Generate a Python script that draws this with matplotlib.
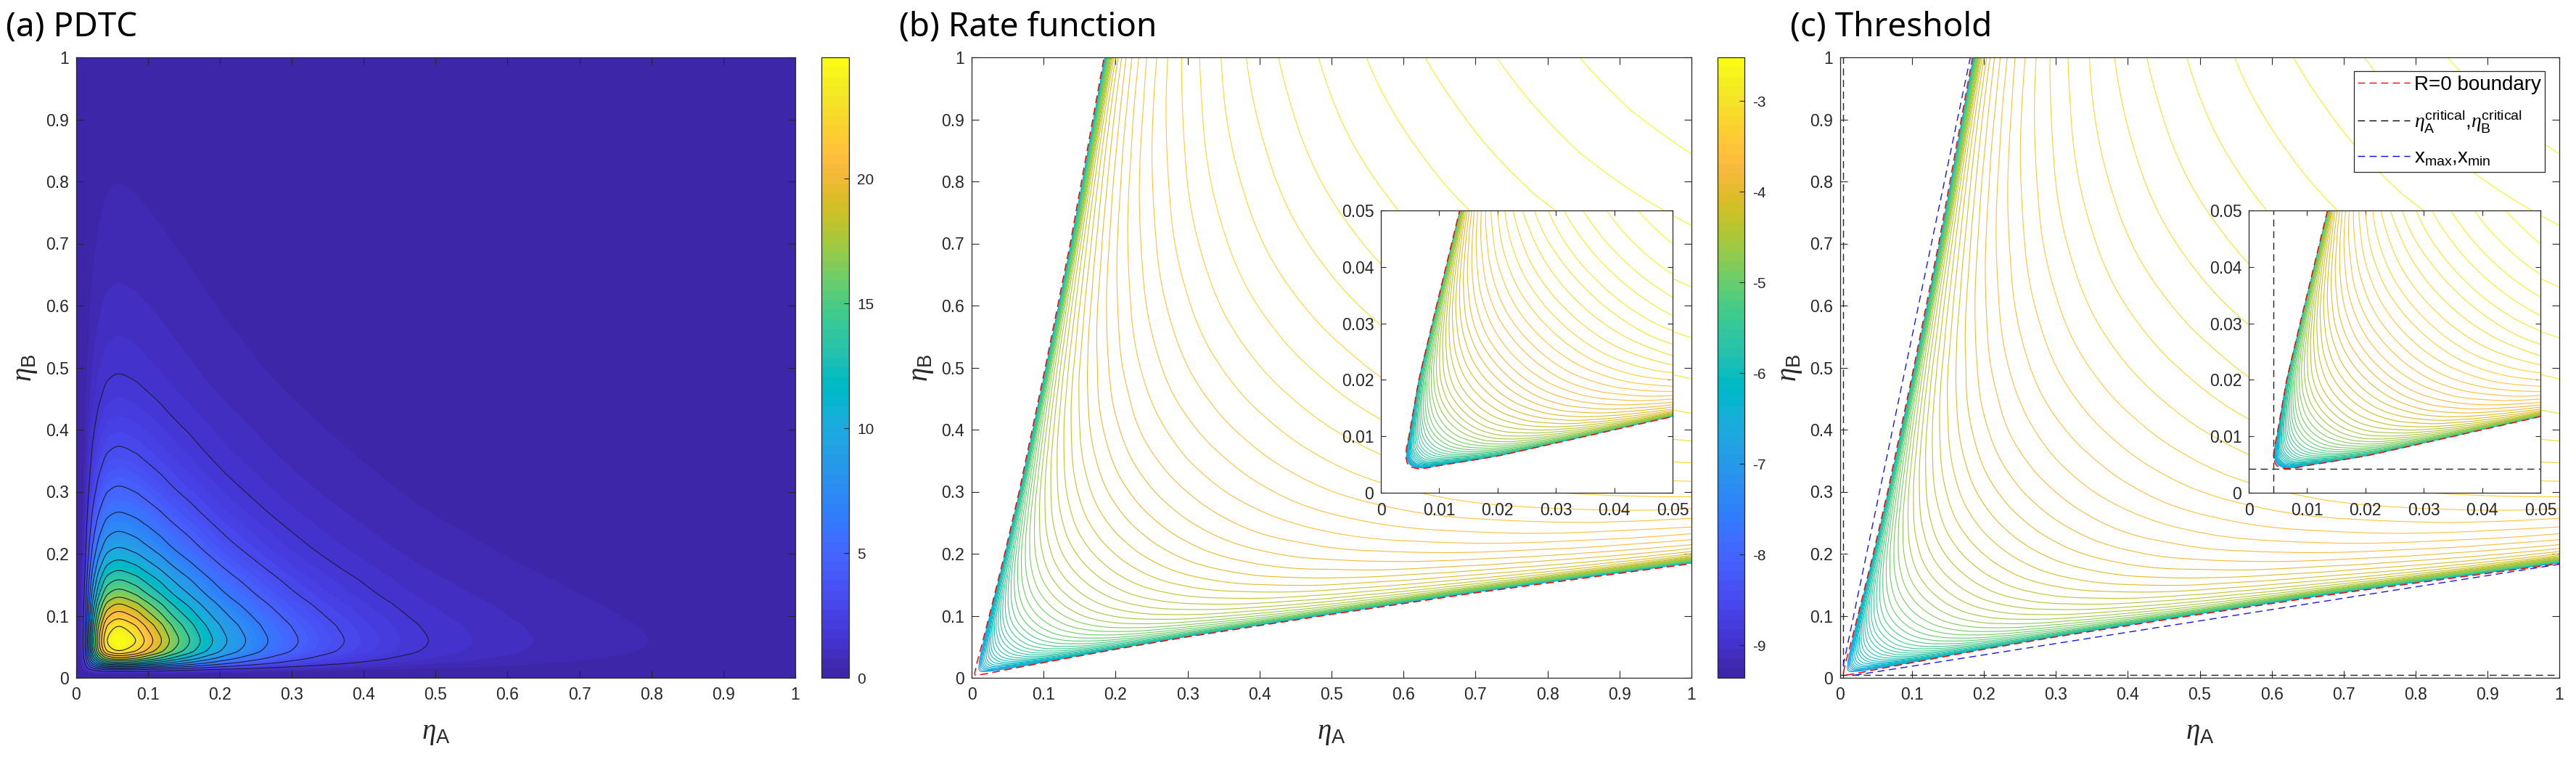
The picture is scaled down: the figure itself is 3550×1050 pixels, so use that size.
import numpy as np
import matplotlib
matplotlib.use('Agg')
import matplotlib.pyplot as plt
from matplotlib.colors import ListedColormap, Normalize
from matplotlib.cm import ScalarMappable
from matplotlib.lines import Line2D

W, H = 3550, 1050
plt.rcParams['font.family'] = ['Liberation Sans', 'DejaVu Sans']
plt.rcParams['axes.unicode_minus'] = False
plt.rcParams['mathtext.fontset'] = 'custom'
plt.rcParams['mathtext.rm'] = 'Liberation Sans'
plt.rcParams['mathtext.it'] = 'Liberation Serif:italic'
plt.rcParams['mathtext.default'] = 'regular'

parula = [[0.2422,0.1504,0.6603],[0.2504,0.1650,0.7076],[0.2578,0.1818,0.7511],[0.2647,0.1978,0.7952],
[0.2706,0.2147,0.8364],[0.2751,0.2342,0.8710],[0.2783,0.2559,0.8991],[0.2803,0.2782,0.9221],
[0.2813,0.3006,0.9414],[0.2810,0.3228,0.9579],[0.2795,0.3447,0.9717],[0.2760,0.3667,0.9829],
[0.2699,0.3892,0.9906],[0.2602,0.4123,0.9952],[0.2440,0.4358,0.9988],[0.2206,0.4603,0.9973],
[0.1963,0.4847,0.9892],[0.1834,0.5074,0.9798],[0.1786,0.5289,0.9682],[0.1764,0.5499,0.9520],
[0.1687,0.5703,0.9359],[0.1540,0.5902,0.9218],[0.1460,0.6091,0.9079],[0.1380,0.6276,0.8973],
[0.1248,0.6459,0.8883],[0.1113,0.6635,0.8763],[0.0952,0.6798,0.8598],[0.0689,0.6948,0.8394],
[0.0297,0.7082,0.8163],[0.0036,0.7203,0.7917],[0.0067,0.7312,0.7660],[0.0433,0.7411,0.7394],
[0.0964,0.7500,0.7120],[0.1408,0.7584,0.6842],[0.1717,0.7670,0.6554],[0.1938,0.7758,0.6251],
[0.2161,0.7843,0.5923],[0.2470,0.7918,0.5567],[0.2906,0.7973,0.5188],[0.3406,0.8008,0.4789],
[0.3909,0.8029,0.4354],[0.4456,0.8024,0.3909],[0.5044,0.7993,0.3480],[0.5616,0.7942,0.3045],
[0.6174,0.7876,0.2612],[0.6720,0.7793,0.2227],[0.7242,0.7698,0.1910],[0.7738,0.7598,0.1646],
[0.8203,0.7498,0.1535],[0.8634,0.7406,0.1596],[0.9035,0.7330,0.1774],[0.9393,0.7288,0.2100],
[0.9728,0.7298,0.2394],[0.9956,0.7434,0.2371],[0.9970,0.7659,0.2199],[0.9952,0.7893,0.2028],
[0.9892,0.8136,0.1885],[0.9786,0.8386,0.1766],[0.9676,0.8639,0.1643],[0.9610,0.8890,0.1537],
[0.9597,0.9135,0.1423],[0.9628,0.9373,0.1265],[0.9691,0.9606,0.1064],[0.9769,0.9839,0.0805]]
cmap = ListedColormap(parula)

# ---- values -----------------------------------------------------------------
main_ticks = [0, .1, .2, .3, .4, .5, .6, .7, .8, .9, 1]
main_tick_labels = ['0', '0.1', '0.2', '0.3', '0.4', '0.5', '0.6', '0.7', '0.8', '0.9', '1']
inset_ticks = [0, .01, .02, .03, .04, .05]
inset_tick_labels = ['0', '0.01', '0.02', '0.03', '0.04', '0.05']
pdtc_cbar_ticks = [0, 5, 10, 15, 20]
rate_cbar_ticks = [-9, -8, -7, -6, -5, -4, -3]

# (a) PDTC: peak value and its profile through the peak (sixteenths of the peak)
pdtc_peak = 24.87
pdtc_eta = [.0005, .0045, .007, .0085, .0101, .0128, .0145, .0162, .0178, .0195, .0212, .0229, .0249,
            .0273, .0296, .0323, .0357, .039, .0438, .06, .083, .095, .107, .119, .13, .143, .158,
            .173, .19, .21, .236, .267, .309, .373, .49, .55, .635, .795, 1.0]
pdtc_sixteenths = [0, 0, .2, .5, 1, 2, 3, 4, 5, 6, 7, 8, 9,
                   10, 11, 12, 13, 14, 15, 16, 15, 14, 13, 12, 11, 10, 9,
                   8, 7, 6, 5, 4, 3, 2, 1, .75, .5, .25, .12]

# (b,c) R=0 boundary, lower branch (the upper one is its mirror image)
boundary_a = [.0048, .0053, .0065, .008, .01, .02, .03, .05, .1, .2, .3, .5, .7, 1.0, 2.0]
boundary_b = [.0048, .0045, .00425, .0044, .0048, .0065, .0088, .0135, .0245, .046, .066, .1023, .137, .184, .345]

# contours counted from the outermost one, where they cross the diagonal eta_A = eta_B
diag_eta = [.0048, .0052, .0058, .0065, .0075, .0085, .01, .012, .015, .02, .0222, .0245, .0275, .031,
            .034, .0375, .0415, .0455, .05, .0543, .0589, .0639, .0693, .0751, .0815, .0884, .0959,
            .104, .1128, .1224, .1328, .144, .1562, .1695, .1838, .1994, .2163, .2346, .2545, .276,
            .2995, .325, .3375, .36, .4, .45, .5, .55, .6, .65, .7, .75, .8, .85, .915, 1.0]
diag_count = [60, 56, 55, 54, 53, 52, 51, 49.5, 48, 45, 44, 43, 42, 41,
              40, 39, 38, 37, 36, 35, 34, 33, 32, 31, 30, 29, 28,
              27, 26, 25, 24, 23, 22, 21, 20, 19, 18, 17, 16, 15,
              14, 13, 12.57, 11.75, 10.43, 8.94, 7.61, 6.41, 5.32, 4.31, 3.37, 2.5, 1.69, .93, 0, -1.12]
inset_diag_eta = [.0048, .005, .0053, .0054, .0055, .0056, .0058, .006, .0062, .0064, .0066, .0069, .0072,
                  .0075, .0079, .0083, .0087, .0092, .0097, .0102, .0108, .0114, .0121, .0128, .0135,
                  .0143, .0151, .016, .017, .018, .019, .0201, .0212, .0223, .0235, .0248, .0261, .0275,
                  .029, .0305, .0321, .0338, .0356, .0373, .0393, .0414, .0438, .0469, .05]
inset_diag_count = [58, 50, 45, 44, 43, 42, 41, 40, 39, 38, 37, 36, 35,
                    34, 33, 32, 31, 30, 29, 28, 27, 26, 25, 24, 23,
                    22, 21, 20, 19, 18, 17, 16, 15, 14, 13, 12, 11, 10,
                    9, 8, 7, 6, 5, 4, 3, 2, 1, 0, -1]
# extra contours crossed going from the diagonal (fraction 1) to the boundary (fraction 0)
across_fraction = [0, .003, .007, .012, .018, .026, .036, .048, .062, .0788, .0974, .118, .144, .172,
                   .206, .248, .296, .35, .413, .487, .57, .66, .764, .877, .94, 1]
across_count = [80, 44, 30, 22, 17.5, 14.2, 12.3, 11, 9.9, 8.92, 8.02, 7.14, 6.28, 5.43,
                4.61, 3.85, 3.13, 2.44, 1.84, 1.31, .84, .48, .22, .05, .01, 0]
rate_top, rate_bottom = -2.52, -9.36
rate_first_contour, rate_step = -2.58, .0855
last_count = 50

critical_eta = .0042
xmax_a = [.0042, .181]
xmax_b = [.02, 1.0]
xmin_a = [.02, 1.0]
xmin_b = [.0042, .183]

INK = '#262626'
TS = 16.5


def smooth_through(x, y, new_x):
    """Monotone cubic through the read-off nodes, only so the surface has no polygon corners."""
    x, y = np.asarray(x, float), np.asarray(y, float)
    h = np.diff(x)
    d = np.diff(y) / h
    m = np.zeros_like(y)
    for i in range(1, len(y) - 1):
        if d[i - 1] * d[i] > 0:
            w1, w2 = 2 * h[i] + h[i - 1], h[i] + 2 * h[i - 1]
            m[i] = (w1 + w2) / (w1 / d[i - 1] + w2 / d[i])
    m[0], m[-1] = d[0], d[-1]
    i = np.clip(np.searchsorted(x, new_x) - 1, 0, len(h) - 1)
    t = (new_x - x[i]) / h[i]
    return ((2 * t**3 - 3 * t**2 + 1) * y[i] + (t**3 - 2 * t**2 + t) * h[i] * m[i]
            + (-2 * t**3 + 3 * t**2) * y[i + 1] + (t**3 - t**2) * h[i] * m[i + 1])


def rect(x0, x1, top, bot):
    return [x0 / W, 1 - bot / H, (x1 - x0) / W, (bot - top) / H]


def style(ax, ticks, labels, ticklen=7):
    ax.set_xlim(0, ticks[-1])
    ax.set_ylim(0, ticks[-1])
    ax.set_xticks(ticks)
    ax.set_xticklabels(labels)
    ax.set_yticks(ticks)
    ax.set_yticklabels(labels)
    ax.tick_params(direction='in', length=ticklen, width=.8, top=True, right=True, color=INK,
                   labelcolor=INK, labelsize=TS)
    ax.tick_params(axis='x', pad=9)
    ax.tick_params(axis='y', pad=7)
    for s in ax.spines.values():
        s.set_linewidth(.9)
        s.set_color(INK)


def axis_labels(ax):
    ax.set_xlabel(r'$\mathit{\eta}_{A}$', fontsize=28, color=INK, va='center')
    ax.set_ylabel(r'$\mathit{\eta}_{B}$', fontsize=28, color=INK, va='center')
    ax.xaxis.set_label_coords(.5, -.09)
    ax.yaxis.set_label_coords(-.069, .5)


def rate_mesh(eta, count):
    # fine stations along the diagonal and across the wedge, through the read-off nodes
    u = np.linspace(np.log(eta[0]), np.log(eta[-1]), 500)
    fine_count = smooth_through(np.log(eta), count, u)
    fine_eta = np.exp(u)
    v = np.linspace(np.log(.0012), 0, 220)
    frac = np.r_[0, np.exp(v) - .001]
    frac = frac[frac < 1]
    frac = np.r_[frac, 1.0]
    fine_across = smooth_through(across_fraction, across_count, frac)
    s = 2 * fine_eta
    arc = np.add(boundary_a, boundary_b)
    la = smooth_through(np.log(arc), boundary_a, np.log(s))
    lb = smooth_through(np.log(arc), boundary_b, np.log(s))
    f = frac[None, :]
    A = la[:, None] + f * (fine_eta - la)[:, None]
    B = lb[:, None] + f * (fine_eta - lb)[:, None]
    X = np.hstack([A, B[:, -2::-1]])
    Y = np.hstack([B, A[:, -2::-1]])
    n = fine_count[:, None] + fine_across[None, :]
    n = np.hstack([n, n[:, -2::-1]])
    return X, Y, rate_first_contour - rate_step * n


norm_rate = Normalize(rate_bottom, rate_top)
rate_levels = (rate_first_contour - rate_step * np.arange(last_count + 1))[::-1]


def draw_rate(ax, eta, count):
    X, Y, Z = rate_mesh(eta, count)
    ax.contour(X, Y, Z, levels=rate_levels, cmap=cmap, norm=norm_rate, linewidths=.8)


def red_boundary(ax):
    ax.plot(boundary_a[::-1] + boundary_b[1:], boundary_b[::-1] + boundary_a[1:], color='#ff0000',
            lw=1.1, ls=(0, (7, 4)), zorder=3)


def colorbar(x0, x1, norm, ticks):
    cax = fig.add_axes(rect(x0, x1, 79, 934))
    cb = fig.colorbar(ScalarMappable(norm=norm, cmap=cmap), cax=cax, ticks=ticks)
    cb.ax.tick_params(direction='in', length=5, width=.8, color=INK, labelcolor=INK, labelsize=15, pad=8)
    cb.outline.set_linewidth(.9)
    cb.outline.set_edgecolor(INK)


fig = plt.figure(figsize=(W / 100, H / 100), dpi=100, facecolor='white')

# (a)
ax = fig.add_axes(rect(104.5, 1096, 79, 934))
fine = np.exp(np.linspace(np.log(pdtc_eta[0]), 0, 900))
p = np.clip(smooth_through(np.log(pdtc_eta), pdtc_sixteenths, np.log(fine)), 0, 16) / 16
Z = pdtc_peak * np.outer(p, p)
fill_step = pdtc_peak / 64
cs = ax.contourf(fine, fine, Z, levels=fill_step * np.arange(65), cmap=cmap, norm=Normalize(0, pdtc_peak))
cs.set_edgecolor('face')
cs.set_linewidth(.4)
ax.contour(fine, fine, Z, levels=fill_step * 4 * np.arange(1, 16), colors='#1b1b33', linewidths=.8)
style(ax, main_ticks, main_tick_labels)
axis_labels(ax)
colorbar(1132, 1170, Normalize(0, pdtc_peak), pdtc_cbar_ticks)

# (b)
ax = fig.add_axes(rect(1339, 2331, 79, 934))
draw_rate(ax, diag_eta, diag_count)
red_boundary(ax)
style(ax, main_ticks, main_tick_labels)
axis_labels(ax)
colorbar(2367, 2404, norm_rate, rate_cbar_ticks)
ins = fig.add_axes(rect(1903, 2305, 290, 679), zorder=5)
draw_rate(ins, inset_diag_eta, inset_diag_count)
red_boundary(ins)
style(ins, inset_ticks, inset_tick_labels, 5)

# (c)
ax = fig.add_axes(rect(2536, 3527, 79, 934))
draw_rate(ax, diag_eta, diag_count)
red_boundary(ax)
dash = (0, (7, 4.5))
ax.axvline(critical_eta, color='#222222', lw=1, ls=dash)
ax.axhline(critical_eta, color='#222222', lw=1, ls=dash)
ax.plot(xmax_a, xmax_b, color='#1515ee', lw=1, ls=dash)
ax.plot(xmin_a, xmin_b, color='#1515ee', lw=1, ls=dash)
style(ax, main_ticks, main_tick_labels)
axis_labels(ax)
ins = fig.add_axes(rect(3099, 3501, 290, 679), zorder=5)
draw_rate(ins, inset_diag_eta, inset_diag_count)
red_boundary(ins)
ins.axvline(critical_eta, color='#222222', lw=1, ls=dash)
ins.axhline(critical_eta, color='#222222', lw=1, ls=dash)
style(ins, inset_ticks, inset_tick_labels, 5)

handles = [Line2D([], [], color='#ff0000', lw=1, ls=dash),
           Line2D([], [], color='black', lw=1, ls=dash),
           Line2D([], [], color='#0000ff', lw=1, ls=dash)]
labels = ['R=0 boundary',
          r'$\mathit{\eta}_{A}^{critical}$,$\mathit{\eta}_{B}^{critical}$',
          r'$x_{max}$,$x_{min}$']
leg = ax.legend(handles, labels, loc='upper left', bbox_to_anchor=(3243.5 / W, 1 - 98 / H),
                bbox_transform=fig.transFigure, borderaxespad=0, fontsize=20, handlelength=2.6,
                handletextpad=.2, labelspacing=.7, borderpad=.2, fancybox=False, framealpha=1,
                edgecolor=INK, labelcolor='black')
leg.get_frame().set_linewidth(.9)
leg.set_zorder(10)

for x, t in [(8, '(a) PDTC'), (1239, '(b) Rate function'), (2467, '(c) Threshold')]:
    fig.text(x / W, 1 - 50 / H, t, fontsize=33, family='Noto Sans', color='black', va='baseline')

fig.savefig('out.png', dpi=100, facecolor='white')
